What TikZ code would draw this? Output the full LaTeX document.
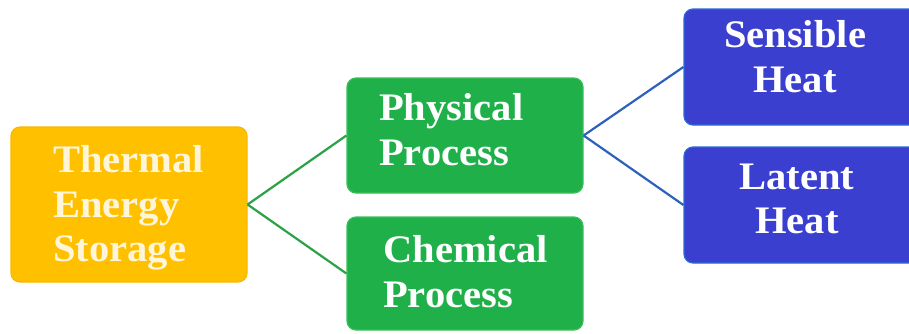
\documentclass[tikz,border=0pt]{standalone}
\usepackage{fontspec}
\setmainfont{Liberation Serif}[FakeStretch=1.04]
\definecolor{orfill}{HTML}{FFC000}
\definecolor{ordraw}{HTML}{F7B900}
\definecolor{orText}{HTML}{FFF6DA}
\definecolor{grfill}{HTML}{1FB04A}
\definecolor{grdraw}{HTML}{3CBF5C}
\definecolor{blfill}{HTML}{3B3FCF}
\definecolor{bldraw}{HTML}{2C6AD6}
\definecolor{grline}{HTML}{2AA245}
\definecolor{blline}{HTML}{2D62BC}
\tikzset{
  boxnode/.style={rectangle, rounded corners=9pt, line width=1.2pt, inner sep=0pt},
  lbl/.style={inner sep=0pt, text=white, font=\fontsize{39}{44.5}\selectfont\bfseries},
  grconn/.style={draw=grline, line width=2.2pt},
  blconn/.style={draw=blline, line width=2.2pt}
}
\begin{document}
\begin{tikzpicture}[x=1pt,y=-1pt]
\useasboundingbox[fill=white] (0,0) rectangle (909,333);
% boxes
\node[boxnode, fill=orfill, draw=ordraw, minimum width=236pt, minimum height=155pt] (tes) at (129,204.5) {};
\node[boxnode, fill=grfill, draw=grdraw, minimum width=236pt, minimum height=115pt] (phys) at (465,135.5) {};
\node[boxnode, fill=grfill, draw=grdraw, minimum width=236pt, minimum height=113pt] (chem) at (465,273.5) {};
\node[boxnode, fill=blfill, draw=bldraw, minimum width=236pt, minimum height=116pt] (sens) at (802,67) {};
\node[boxnode, fill=blfill, draw=bldraw, minimum width=236pt, minimum height=116pt] (lat) at (802,205) {};
% labels
\node[lbl, text=orText, align=left, anchor=north west] (tesT) at (53,145.5) {Thermal\\Energy\\Storage};
\node[lbl, align=left, anchor=north west] (physT) at (379,93.5) {Physical\\Process};
\node[lbl, align=left, anchor=north west] (chemT) at (383,235.5) {Chemical\\Process};
\node[lbl, align=center, anchor=north] (sensT) at (795,20.5) {Sensible\\Heat};
\node[lbl, align=center, anchor=north] (latT) at (797,163.5) {Latent\\Heat};
% connectors
\draw[grconn] (tes.east) -- (phys.west);
\draw[grconn] (tes.east) -- (chem.west);
\draw[blconn] (phys.east) -- (sens.west);
\draw[blconn] (phys.east) -- (lat.west);
\end{tikzpicture}
\end{document}
